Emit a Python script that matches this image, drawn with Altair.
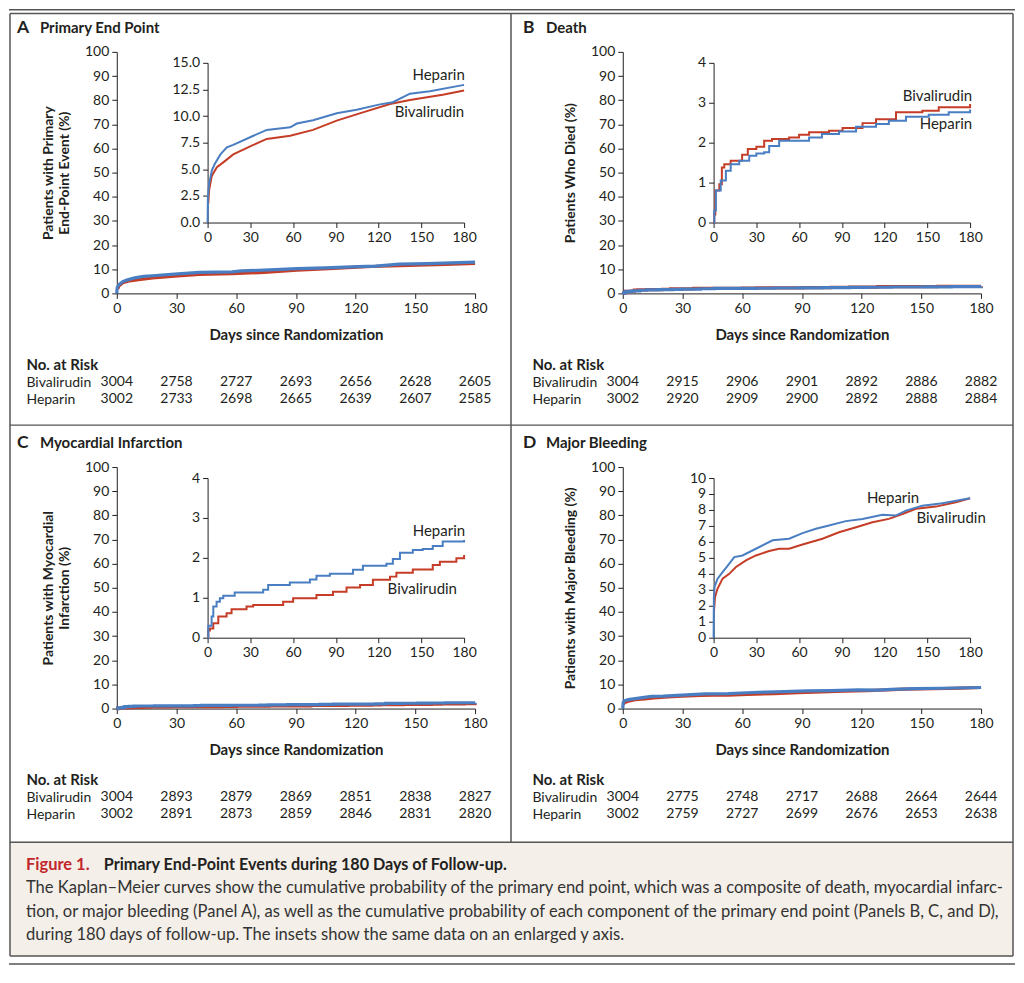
import altair as alt
import pandas as pd

# ---------------- data ----------------
SERIES = ["Bivalirudin", "Heparin"]
DAY_TICKS = [0, 30, 60, 90, 120, 150, 180]
MAIN_TICKS = [0, 10, 20, 30, 40, 50, 60, 70, 80, 90, 100]

# Panel A - primary end point (%)
A_HEP_DAYS = [0, 0.2, 1, 3, 5, 9, 13.5, 18, 30.6, 41.5, 58, 62.6, 74, 90.6, 104.6, 121, 130, 142, 156, 180]
A_HEP_VALS = [0, 2.4, 3.6, 4.9, 5.5, 6.4, 7.06, 7.3, 8.06, 8.7, 8.94, 9.3, 9.6, 10.26, 10.6, 11.1, 11.3, 12.1, 12.33, 12.93]
A_BIV_DAYS = [0.5, 1, 3, 6.5, 11, 18, 30.6, 41.5, 58, 74, 90.6, 109, 128, 142, 165, 180]
A_BIV_VALS = [1.8, 3.0, 4.4, 5.2, 5.65, 6.4, 7.2, 7.85, 8.16, 8.7, 9.57, 10.35, 11.14, 11.5, 12.0, 12.4]

# Panel B - death (%)
B_HEP_DAYS = [0, 0.5, 1.6, 5, 8.6, 12, 18, 25, 30, 35.5, 39, 46, 58, 67, 76, 88, 100, 114, 123, 135, 151, 165, 180]
B_HEP_VALS = [0, 0.3, 0.8, 1.05, 1.3, 1.46, 1.55, 1.67, 1.73, 1.76, 1.92, 2.05, 2.05, 2.13, 2.22, 2.28, 2.4, 2.47, 2.55, 2.65, 2.7, 2.76, 2.83]
B_BIV_DAYS = [0, 0.5, 1.2, 4, 5.8, 7.5, 12, 20, 24, 30, 35.5, 41, 53, 60, 67, 81, 90.5, 104.5, 114, 128, 146.5, 158, 180]
B_BIV_VALS = [0, 0.2, 0.8, 0.96, 1.38, 1.46, 1.55, 1.7, 1.84, 1.9, 2.05, 2.09, 2.13, 2.2, 2.26, 2.3, 2.37, 2.49, 2.59, 2.76, 2.8, 2.89, 2.97]

# Panel C - myocardial infarction (%)
C_HEP_DAYS = [0, 0.5, 2.8, 4, 6.3, 8.6, 11, 19, 39, 42.5, 57.7, 71.8, 76.4, 85.8, 102, 109, 125.5, 130, 135, 144, 151, 158, 165, 177, 180]
C_HEP_VALS = [0, 0.3, 0.53, 0.78, 0.9, 0.99, 1.05, 1.13, 1.2, 1.32, 1.38, 1.46, 1.55, 1.6, 1.7, 1.8, 1.85, 1.97, 2.13, 2.2, 2.22, 2.3, 2.41, 2.41, 2.45]
C_BIV_DAYS = [0, 0.5, 1.6, 4, 7.5, 13.3, 16.8, 27.3, 32, 53, 60, 76.4, 88, 97.5, 107, 116, 128, 132.5, 144, 158, 163, 174.6, 180]
C_BIV_VALS = [0, 0.18, 0.23, 0.36, 0.53, 0.61, 0.71, 0.78, 0.82, 0.9, 0.99, 1.07, 1.15, 1.26, 1.32, 1.45, 1.53, 1.63, 1.71, 1.82, 1.9, 1.99, 2.07]

# Panel D - major bleeding (%)
D_HEP_DAYS = [0, 0.2, 0.7, 2.8, 6.3, 9.8, 14.5, 20.3, 29.7, 41.4, 53, 62.4, 71.8, 81, 92.8, 104.5, 118.5, 127.8, 135, 146.5, 160.6, 180]
D_HEP_VALS = [0, 2.5, 3.2, 3.7, 4.1, 4.5, 5.05, 5.15, 5.57, 6.1, 6.2, 6.55, 6.82, 7.03, 7.3, 7.44, 7.7, 7.65, 7.96, 8.27, 8.42, 8.73]
D_BIV_DAYS = [0.3, 1, 2.8, 6.3, 11, 15.7, 22.7, 29.7, 39, 46, 53, 62.4, 76.4, 88, 100, 111.5, 123, 132.5, 142, 156, 170, 180]
D_BIV_VALS = [1.7, 2.55, 3.08, 3.7, 4.0, 4.43, 4.84, 5.15, 5.43, 5.57, 5.57, 5.84, 6.2, 6.6, 6.92, 7.23, 7.44, 7.75, 8.07, 8.21, 8.48, 8.73]

# No. at risk
A_RISK_BIV = [3004, 2758, 2727, 2693, 2656, 2628, 2605]
A_RISK_HEP = [3002, 2733, 2698, 2665, 2639, 2607, 2585]
B_RISK_BIV = [3004, 2915, 2906, 2901, 2892, 2886, 2882]
B_RISK_HEP = [3002, 2920, 2909, 2900, 2892, 2888, 2884]
C_RISK_BIV = [3004, 2893, 2879, 2869, 2851, 2838, 2827]
C_RISK_HEP = [3002, 2891, 2873, 2859, 2846, 2831, 2820]
D_RISK_BIV = [3004, 2775, 2748, 2717, 2688, 2664, 2644]
D_RISK_HEP = [3002, 2759, 2727, 2699, 2676, 2653, 2638]

# inset series-label anchors (day, value), right aligned
A_LABELS = {"Heparin": (180.5, 13.9), "Bivalirudin": (180, 10.4)}
B_LABELS = {"Bivalirudin": (181.4, 3.18), "Heparin": (181.4, 2.48)}
C_LABELS = {"Heparin": (180.7, 2.68), "Bivalirudin": (175, 1.23)}
D_LABELS = {"Heparin": (144.3, 8.76), "Bivalirudin": (191, 7.52)}

CAPTION_HEAD = "Figure 1."
CAPTION_TITLE = "Primary End-Point Events during 180 Days of Follow-up."
CAPTION_BODY = [
    "The Kaplan\u2013Meier curves show the cumulative probability of the primary end point, which was a composite of death, myocardial infarc-",
    "tion, or major bleeding (Panel A), as well as the cumulative probability of each component of the primary end point (Panels B, C, and D),",
    "during 180 days of follow-up. The insets show the same data on an enlarged y axis.",
]

# ---------------- style / layout ----------------
W, H = 1008, 960
FONT = "Lato"
INK = "#231f20"
RED = "#c53d27"
BLUE = "#4a7ec2"
FRAME = "#555555"
CAPTION_BG = "#f4efe8"


def RX(x):
    return x - 8


def RY(y):
    return y - 8


PANELS = [
    dict(letter="A", title="Primary End Point", ytitle=["Patients with Primary", "End-Point Event (%)"],
         ox=0, oy=0, idom=[0, 15], iticks=[0, 2.5, 5, 7.5, 10, 12.5, 15], ifmt=".1f", interp="linear",
         curves={"Bivalirudin": (A_BIV_DAYS, A_BIV_VALS), "Heparin": (A_HEP_DAYS, A_HEP_VALS)},
         labels=A_LABELS, risk={"Bivalirudin": A_RISK_BIV, "Heparin": A_RISK_HEP}),
    dict(letter="B", title="Death", ytitle="Patients Who Died (%)",
         ox=507, oy=0, idom=[0, 4], iticks=[0, 1, 2, 3, 4], ifmt="d", interp="step-after",
         curves={"Bivalirudin": (B_BIV_DAYS, B_BIV_VALS), "Heparin": (B_HEP_DAYS, B_HEP_VALS)},
         labels=B_LABELS, risk={"Bivalirudin": B_RISK_BIV, "Heparin": B_RISK_HEP}),
    dict(letter="C", title="Myocardial Infarction", ytitle=["Patients with Myocardial", "Infarction (%)"],
         ox=0, oy=416, idom=[0, 4], iticks=[0, 1, 2, 3, 4], ifmt="d", interp="step-after",
         curves={"Bivalirudin": (C_BIV_DAYS, C_BIV_VALS), "Heparin": (C_HEP_DAYS, C_HEP_VALS)},
         labels=C_LABELS, risk={"Bivalirudin": C_RISK_BIV, "Heparin": C_RISK_HEP}),
    dict(letter="D", title="Major Bleeding", ytitle="Patients with Major Bleeding (%)",
         ox=507, oy=416, idom=[0, 10], iticks=list(range(11)), ifmt="d", interp="linear",
         curves={"Bivalirudin": (D_BIV_DAYS, D_BIV_VALS), "Heparin": (D_HEP_DAYS, D_HEP_VALS)},
         labels=D_LABELS, risk={"Bivalirudin": D_RISK_BIV, "Heparin": D_RISK_HEP}),
]

color = alt.Color("series:N", scale=alt.Scale(domain=SERIES, range=[RED, BLUE]), legend=None)


def text_layer(rows, **mark):
    df = pd.DataFrame(rows, columns=["x", "y", "text"])
    return alt.Chart(df).mark_text(**mark).encode(
        x=alt.X("x:Q", scale=None, axis=None),
        y=alt.Y("y:Q", scale=None, axis=None),
        text="text:N",
    )


layers = []

# caption background
cap_bg = pd.DataFrame([{"x": 1, "x2": 1006, "y": RY(843), "y2": RY(957)}])
layers.append(alt.Chart(cap_bg).mark_rect(color=CAPTION_BG).encode(
    x=alt.X("x:Q", scale=None, axis=None), x2="x2:Q",
    y=alt.Y("y:Q", scale=None, axis=None), y2="y2:Q"))

for p in PANELS:
    ox, oy = p["ox"], p["oy"]
    rows = []
    for s in SERIES:
        d, v = p["curves"][s]
        for a, b in zip(d, v):
            rows.append({"series": s, "day": a, "value": b})
    df = pd.DataFrame(rows)

    mx = alt.Scale(domain=[0, 180], range=[RX(116 + ox), RX(475 + ox)], nice=False, zero=False)
    my = alt.Scale(domain=[0, 100], range=[RY(293 + oy), RY(51 + oy)], nice=False, zero=False)
    ix = alt.Scale(domain=[0, 180], range=[RX(207 + ox), RX(464 + ox)], nice=False, zero=False)
    iy = alt.Scale(domain=p["idom"], range=[RY(222 + oy), RY(62 + oy)], nice=False, zero=False)

    main = alt.Chart(df).mark_line(interpolate=p["interp"], strokeWidth=3.2).encode(
        x=alt.X("day:Q", scale=mx, axis=alt.Axis(
            orient="bottom", offset=RY(293 + oy) - H, values=DAY_TICKS,
            title="Days since Randomization", titleFontSize=15, titlePadding=12)),
        y=alt.Y("value:Q", scale=my, axis=alt.Axis(
            orient="left", offset=-RX(116 + ox), values=MAIN_TICKS,
            title=p["ytitle"], titlePadding=13)),
        color=color,
    )
    inset = alt.Chart(df).mark_line(interpolate=p["interp"], strokeWidth=2).encode(
        x=alt.X("day:Q", scale=ix, axis=alt.Axis(
            orient="bottom", offset=RY(222 + oy) - H, values=DAY_TICKS, title=None)),
        y=alt.Y("value:Q", scale=iy, axis=alt.Axis(
            orient="left", offset=-RX(207 + ox), values=p["iticks"], format=p["ifmt"], title=None)),
        color=color,
    )
    labdf = pd.DataFrame([{"series": s, "day": p["labels"][s][0], "value": p["labels"][s][1]} for s in SERIES])
    labels = alt.Chart(labdf).mark_text(align="right", baseline="middle", font=FONT, fontSize=15, color=INK).encode(
        x=alt.X("day:Q", scale=ix, axis=None),
        y=alt.Y("value:Q", scale=iy, axis=None),
        text="series:N",
    )
    rk = pd.DataFrame([{"series": s, "day": d, "n": n}
                       for s in SERIES for d, n in zip(DAY_TICKS, p["risk"][s])])
    table = alt.Chart(rk).mark_text(align="center", baseline="middle", font=FONT, fontSize=14, color=INK).encode(
        x=alt.X("day:Q", scale=mx, axis=None),
        y=alt.Y("series:N", scale=alt.Scale(type="point", domain=SERIES,
                                            range=[RY(382 + oy), RY(399 + oy)], padding=0),
                axis=alt.Axis(orient="left", offset=-RX(25 + ox), domain=False, ticks=False, tickSize=0,
                              labelPadding=0, labelAlign="left", labelFontSize=14,
                              title="No. at Risk", titleAngle=0, titleAlign="left", titleBaseline="middle",
                              titleX=0, titleY=RY(364 + oy), titleFontSize=15, titlePadding=0)),
        text=alt.Text("n:Q", format="d"),
    )
    layers += [main, inset, labels, table]

# panel headers
layers.append(text_layer([(RX(16 + p["ox"]), RY(27 + p["oy"]), p["letter"]) for p in PANELS],
                         align="left", baseline="middle", font=FONT, fontSize=17.5, fontWeight="bold", color=INK))
layers.append(text_layer([(RX(39 + p["ox"]), RY(27 + p["oy"]), p["title"]) for p in PANELS],
                         align="left", baseline="middle", font=FONT, fontSize=15, fontWeight="bold", color=INK))

# frame lines
frame = pd.DataFrame([
    {"x": 0, "x2": W, "y": 0.75, "y2": 0.75},
    {"x": 1, "x2": 1006, "y": 4.5, "y2": 4.5},
    {"x": 1, "x2": 1, "y": 4.5, "y2": RY(957)},
    {"x": 1006, "x2": 1006, "y": 4.5, "y2": RY(957)},
    {"x": RX(511), "x2": RX(511), "y": 4.5, "y2": RY(843)},
    {"x": 1, "x2": 1006, "y": RY(425), "y2": RY(425)},
    {"x": 1, "x2": 1006, "y": RY(843), "y2": RY(843)},
    {"x": 1, "x2": 1006, "y": RY(957), "y2": RY(957)},
    {"x": 0, "x2": W, "y": RY(965), "y2": RY(965)},
])
layers.append(alt.Chart(frame).mark_rule(color=FRAME, strokeWidth=1.5).encode(
    x=alt.X("x:Q", scale=None, axis=None), x2="x2:Q",
    y=alt.Y("y:Q", scale=None, axis=None), y2="y2:Q"))

# caption
layers.append(text_layer([(RX(25), RY(866), CAPTION_HEAD)],
                         align="left", baseline="middle", font=FONT, fontSize=16.5, fontWeight="bold", color="#c1272d"))
layers.append(text_layer([(RX(103), RY(866), CAPTION_TITLE)],
                         align="left", baseline="middle", font=FONT, fontSize=16.2, fontWeight="bold", color=INK))
layers.append(text_layer([(RX(25), RY(889 + 23.5 * i), line) for i, line in enumerate(CAPTION_BODY)],
                         align="left", baseline="middle", font=FONT, fontSize=16.6, color="#333333"))

chart = alt.layer(*layers).resolve_scale(x="independent", y="independent").properties(
    width=W, height=H, padding=0
).configure_view(stroke=None).configure_axis(
    grid=False, labelFont=FONT, labelFontSize=14, labelColor=INK, labelFlush=False, labelOverlap=False,
    domainColor=INK, tickColor=INK, tickSize=5, domainWidth=1, tickWidth=1,
    titleFont=FONT, titleFontSize=14, titleFontWeight="bold", titleColor=INK,
).configure_axisX(labelPadding=3).configure_axisY(labelPadding=3)

chart.save("out.html", embed_options={"renderer": "svg", "actions": False})
